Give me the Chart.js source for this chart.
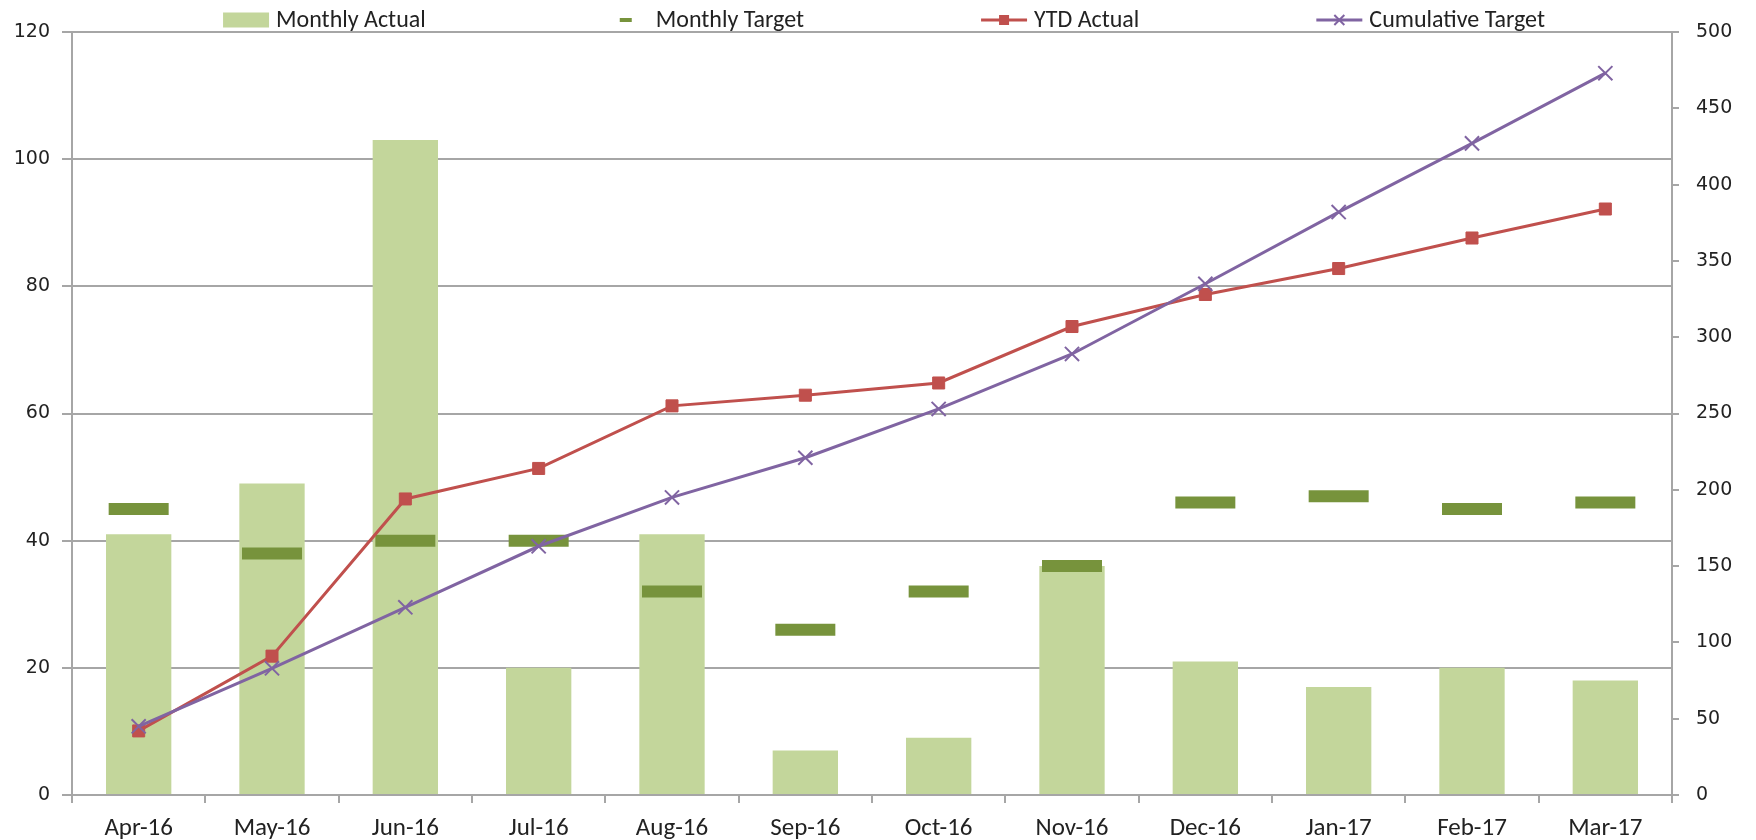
<!DOCTYPE html>
<html lang="en">
<head>
<meta charset="utf-8" />
<title>Monthly actual vs target</title>
<script src="https://cdn.jsdelivr.net/npm/chart.js@4.4.1/dist/chart.umd.min.js"></script>
<style>
  html, body { margin: 0; padding: 0; background: #fff; }
</style>
</head>
<body>
<canvas id="myChart" width="1756" height="840"></canvas>
<script>
// values
const months = ['Apr-16', 'May-16', 'Jun-16', 'Jul-16', 'Aug-16', 'Sep-16',
                'Oct-16', 'Nov-16', 'Dec-16', 'Jan-17', 'Feb-17', 'Mar-17'];
const monthlyActual    = [41, 49, 103, 20, 41, 7, 9, 36, 21, 17, 20, 18];
const monthlyTarget    = [45, 38, 40, 40, 32, 26, 32, 36, 46, 47, 45, 46];
const ytdActual        = [42, 91, 194, 214, 255, 262, 270, 307, 328, 345, 365, 384];
const cumulativeTarget = [45, 83, 123, 163, 195, 221, 253, 289, 335, 382, 427, 473];
const leftTicks  = [0, 20, 40, 60, 80, 100, 120];
const rightTicks = [0, 50, 100, 150, 200, 250, 300, 350, 400, 450, 500];

const gridGrey = '#A6A6A6';
const textCol = '#222';
const labelFont = 'Carlito, Lato, sans-serif';

// legend like excel: symbol slot, then text, equal gaps between entries
const excelLegend = {
  id: 'excelLegend',
  afterDraw(chart) {
    const ctx = chart.ctx;
    const slot = 46, gap = 7, spacing = 177, y = 20;
    ctx.save();
    ctx.font = '24px ' + labelFont;
    const items = chart.data.datasets.map(ds => ({ ds, w: slot + gap + ctx.measureText(ds.label).width }));
    const total = items.reduce((s, it) => s + it.w, 0) + spacing * (items.length - 1);
    let x = (chart.chartArea.left + chart.chartArea.right) / 2 - total / 2 + 12;
    items.forEach(it => {
      const ds = it.ds;
      const cx = x + slot / 2;
      if (ds.legendSymbol === 'box') {
        ctx.fillStyle = ds.backgroundColor;
        ctx.fillRect(x, y - 7.5, slot, 15);
      } else if (ds.legendSymbol === 'dash') {
        ctx.fillStyle = ds.pointBorderColor;
        ctx.fillRect(cx - 6, y - 2, 12, 4);
      } else {
        ctx.strokeStyle = ds.borderColor;
        ctx.lineWidth = 3;
        ctx.beginPath();
        ctx.moveTo(x, y);
        ctx.lineTo(x + slot, y);
        ctx.stroke();
        if (ds.legendSymbol === 'square') {
          ctx.fillStyle = ds.borderColor;
          ctx.fillRect(cx - 5, y - 5, 10, 10);
        } else {
          ctx.lineWidth = 2;
          ctx.beginPath();
          ctx.moveTo(cx - 5, y - 5); ctx.lineTo(cx + 5, y + 5);
          ctx.moveTo(cx + 5, y - 5); ctx.lineTo(cx - 5, y + 5);
          ctx.stroke();
        }
      }
      ctx.fillStyle = textCol;
      ctx.textBaseline = 'middle';
      ctx.textAlign = 'left';
      ctx.fillText(ds.label, x + slot + gap, y + 1);
      x += it.w + spacing;
    });
    ctx.restore();
  }
};

const ctx = document.getElementById('myChart').getContext('2d');

new Chart(ctx, {
  type: 'bar',
  data: {
    labels: months,
    datasets: [
      {
        label: 'Monthly Actual',
        data: monthlyActual,
        backgroundColor: '#C3D69B',
        barPercentage: 0.49,
        categoryPercentage: 1,
        yAxisID: 'y',
        order: 4,
        legendSymbol: 'box'
      },
      {
        type: 'line',
        label: 'Monthly Target',
        data: monthlyTarget,
        showLine: false,
        pointStyle: 'line',
        pointRadius: 30,
        pointBorderWidth: 12,
        pointBorderColor: '#77933C',
        pointBackgroundColor: '#77933C',
        borderColor: '#77933C',
        yAxisID: 'y',
        order: 3,
        legendSymbol: 'dash'
      },
      {
        type: 'line',
        label: 'YTD Actual',
        data: ytdActual,
        borderColor: '#C0504D',
        backgroundColor: '#C0504D',
        borderWidth: 3,
        tension: 0,
        pointStyle: 'rect',
        pointRadius: 8.5,
        pointBorderWidth: 1,
        yAxisID: 'y2',
        order: 2,
        legendSymbol: 'square'
      },
      {
        type: 'line',
        label: 'Cumulative Target',
        data: cumulativeTarget,
        borderColor: '#8064A2',
        backgroundColor: '#8064A2',
        borderWidth: 3,
        tension: 0,
        pointStyle: 'crossRot',
        pointRadius: 10,
        pointBorderWidth: 2,
        yAxisID: 'y2',
        order: 1,
        legendSymbol: 'cross'
      }
    ]
  },
  options: {
    responsive: false,
    animation: false,
    devicePixelRatio: 1,
    layout: { autoPadding: false, padding: { top: 32, left: 0, right: 0, bottom: 0 } },
    plugins: {
      legend: { display: false },
      tooltip: { enabled: false }
    },
    scales: {
      x: {
        offset: true,
        grid: { offset: true, drawOnChartArea: false, tickLength: 8, color: gridGrey, lineWidth: 2 },
        border: { color: gridGrey, width: 2 },
        ticks: { color: textCol, font: { family: labelFont, size: 25 }, padding: 11, maxRotation: 0, autoSkip: false },
        afterFit: s => { s.height = 45; }
      },
      y: {
        position: 'left',
        min: leftTicks[0],
        max: leftTicks[leftTicks.length - 1],
        afterBuildTicks: s => { s.ticks = leftTicks.map(v => ({ value: v })); },
        ticks: { color: textCol, font: { family: 'DejaVu Sans', size: 19 }, padding: 12 },
        grid: { color: gridGrey, lineWidth: 2, tickLength: 10 },
        border: { color: gridGrey, width: 2 },
        afterFit: s => { s.width = 72; }
      },
      y2: {
        position: 'right',
        min: rightTicks[0],
        max: rightTicks[rightTicks.length - 1],
        afterBuildTicks: s => { s.ticks = rightTicks.map(v => ({ value: v })); },
        ticks: { color: textCol, font: { family: 'DejaVu Sans', size: 19 }, padding: 17 },
        grid: { drawOnChartArea: false, color: gridGrey, lineWidth: 2, tickLength: 7 },
        border: { color: gridGrey, width: 2 },
        afterFit: s => { s.width = 84; }
      }
    }
  },
  plugins: [excelLegend]
});
</script>
</body>
</html>
